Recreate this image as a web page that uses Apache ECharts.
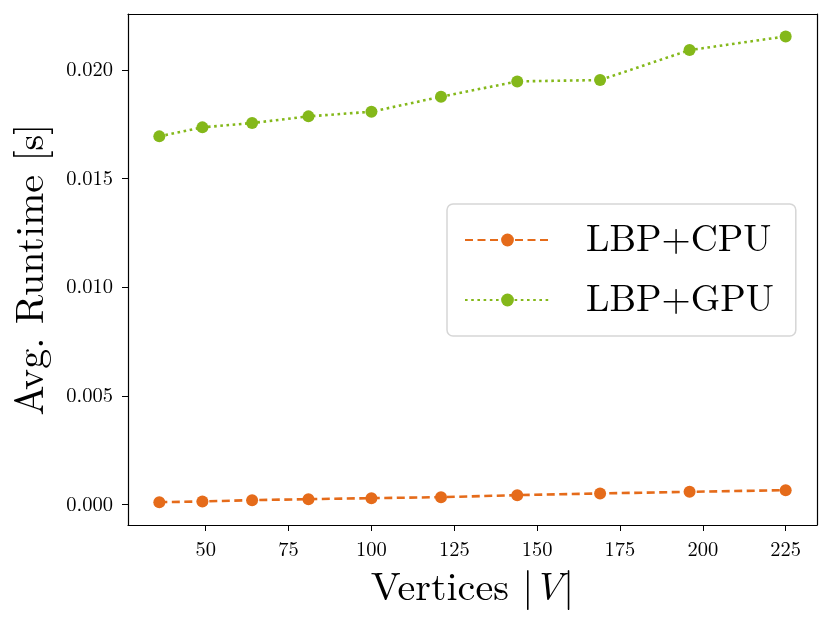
<!DOCTYPE html>
<html>
<head>
<meta charset="utf-8">
<script src="https://cdn.jsdelivr.net/npm/echarts@6/dist/echarts.min.js"></script>
<style>
  html, body { margin: 0; padding: 0; background: #fff; }
  #chart { width: 831px; height: 624px; }
</style>
</head>
<body>
<div id="chart"></div>
<script>
// vertices |V|
var vertices = [36, 49, 64, 81, 100, 121, 144, 169, 196, 225];
// average runtime in seconds
var cpuRuntime = [0.000106, 0.000138, 0.000198, 0.000244, 0.00029, 0.000336, 0.000428, 0.000506, 0.000582, 0.000658];
var gpuRuntime = [0.016935, 0.017349, 0.017549, 0.017855, 0.018069, 0.018759, 0.019464, 0.019525, 0.020905, 0.021533];
// tick labels
var xTicks = [50, 75, 100, 125, 150, 175, 200, 225];
var yTicks = [0, 0.005, 0.01, 0.015, 0.02];

var serif = "'Latin Modern Roman', 'CMU Serif', 'Liberation Serif', 'DejaVu Serif', serif";
var xRange = [26.55, 234.45];
var yRange = [-0.000945, 0.022565];

function pairs(xs, ys) {
  var out = [];
  for (var i = 0; i < xs.length; i++) {
    out.push([xs[i], ys[i]]);
  }
  return out;
}

// plain axis used only to close the frame on top / right
function frameAxis(pos, range) {
  return {
    type: "value",
    position: pos,
    min: range[0],
    max: range[1],
    splitLine: { show: false },
    axisLine: { show: true, onZero: false, lineStyle: { color: "#000", width: 1.2 } },
    axisTick: { show: false },
    axisLabel: { show: false },
  };
}

var option = {
  animation: false,
  backgroundColor: "#fff",
  grid: { left: 128, right: 14, top: 14, bottom: 99, containLabel: false },
  legend: {
    orient: "vertical",
    left: 447,
    top: 204,
    padding: [17, 22, 17, 17],
    itemWidth: 85,
    itemHeight: 16,
    itemGap: 22,
    borderColor: "#d6d6d6",
    borderWidth: 1.5,
    borderRadius: 6,
    backgroundColor: "rgba(255,255,255,0.8)",
    textStyle: {
      fontFamily: serif,
      fontSize: 37.5,
      color: "#000",
      padding: [0, 0, 0, 31],
    },
    data: ["LBP+CPU", "LBP+GPU"],
  },
  xAxis: [
    {
      type: "value",
      min: xRange[0],
      max: xRange[1],
      name: "{a|Vertices |}{b|V}{a||}",
      nameLocation: "middle",
      nameGap: 43,
      nameTextStyle: {
        rich: {
          a: { fontFamily: serif, fontSize: 40, color: "#000" },
          b: { fontFamily: serif, fontSize: 40, fontStyle: "italic", color: "#000" },
        },
      },
      splitLine: { show: false },
      axisLine: { onZero: false, lineStyle: { color: "#000", width: 1.2 } },
      axisTick: { show: true, length: 6, customValues: xTicks, lineStyle: { color: "#000", width: 1 } },
      axisLabel: {
        customValues: xTicks,
        color: "#000",
        fontFamily: serif,
        fontSize: 20.5,
        margin: 14,
      },
    },
    frameAxis("top", xRange),
  ],
  yAxis: [
    {
      type: "value",
      min: yRange[0],
      max: yRange[1],
      name: "Avg. Runtime [s]",
      nameLocation: "middle",
      nameGap: 77,
      nameTextStyle: { fontFamily: serif, fontSize: 40, color: "#000" },
      splitLine: { show: false },
      axisLine: { show: true, onZero: false, lineStyle: { color: "#000", width: 1.2 } },
      axisTick: { show: true, length: 6, customValues: yTicks, lineStyle: { color: "#000", width: 1 } },
      axisLabel: {
        customValues: yTicks,
        color: "#000",
        fontFamily: serif,
        fontSize: 20.5,
        margin: 15,
        formatter: function (v) { return v.toFixed(3); },
      },
    },
    frameAxis("right", yRange),
  ],
  series: [
    {
      name: "LBP+CPU",
      type: "line",
      data: pairs(vertices, cpuRuntime),
      symbol: "circle",
      symbolSize: 12,
      itemStyle: { color: "#e56b1a" },
      lineStyle: { color: "#e56b1a", width: 2.6, type: [8, 4.5] },
    },
    {
      name: "LBP+GPU",
      type: "line",
      data: pairs(vertices, gpuRuntime),
      symbol: "circle",
      symbolSize: 12,
      itemStyle: { color: "#84b81a" },
      lineStyle: { color: "#84b81a", width: 2.6, type: [2.6, 3.6] },
    },
  ],
};

var myChart = echarts.init(document.getElementById("chart"));
myChart.setOption(option);
</script>
</body>
</html>
